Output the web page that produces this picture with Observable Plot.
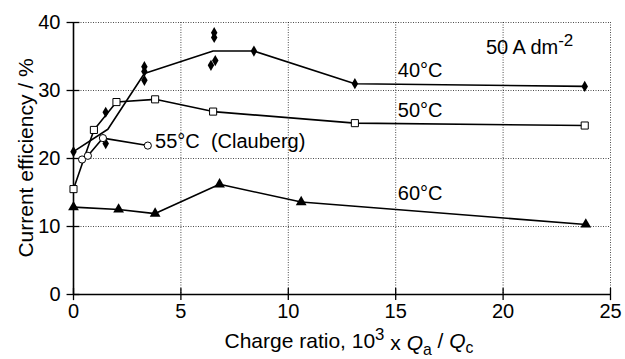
<!DOCTYPE html>
<html><head><meta charset="utf-8">
<script src="https://cdn.jsdelivr.net/npm/d3@7"></script>
<script src="https://cdn.jsdelivr.net/npm/@observablehq/plot@0.6"></script>
<style>
body{margin:0;background:#fff}
svg{font-family:"Liberation Sans",Arial,sans-serif}
</style>
</head><body><div id="chart"></div>
<script>
const xTicks=[0,5,10,15,20,25];
const yTicks=[0,10,20,30,40];
// 40 °C
const line40X=[0,1.6,3.3,6.5,8.4,13.1,23.8];
const line40Y=[21.0,24.3,32.5,35.8,35.8,31.0,30.6];
const mark40X=[0,8.4,13.1,23.8];
const mark40Y=[21.0,35.8,31.0,30.6];
const scatter40X=[1.5,1.5,3.3,3.3,3.3,6.55,6.55,6.6,6.4];
const scatter40Y=[26.8,22.2,33.5,32.8,31.5,38.5,37.8,34.4,33.7];
// 50 °C
const line50X=[0,0.95,2.0,3.8,6.5,13.1,23.8];
const line50Y=[15.5,24.2,28.3,28.7,26.9,25.2,24.85];
// 55 °C (Clauberg)
const line55X=[0.4,0.67,1.37,3.46];
const line55Y=[19.85,20.4,23.0,21.9];
// 60 °C
const line60X=[0,2.1,3.8,6.8,10.6,23.85];
const line60Y=[12.85,12.5,11.9,16.2,13.6,10.3];
// annotations
const labelText=["40°C","50°C","55°C  (Clauberg)","60°C","50 A dm"];
const labelX=[15.1,15.1,3.8,15.1,19.2];
const labelY=[33.0,27.1,22.5,14.8,36.3];

const pts=(xs,ys)=>xs.map((x,i)=>({x,y:ys[i]}));
const d40=pts(line40X,line40Y), m40=pts(mark40X,mark40Y), s40=pts(scatter40X,scatter40Y);
const d50=pts(line50X,line50Y), d55=pts(line55X,line55Y), d60=pts(line60X,line60Y);
const labels=labelText.map((t,i)=>({t,x:labelX[i],y:labelY[i]}));

const FS=20, TS=21;
const chart=Plot.plot({
  width:625,height:359,
  marginLeft:73,marginRight:15,marginTop:22,marginBottom:65,
  style:{fontFamily:"Liberation Sans, Arial, sans-serif",fontSize:FS+"px",color:"#000",background:"#fff"},
  x:{domain:[0,25]},
  y:{domain:[0,40]},
  marks:[
    Plot.gridX(xTicks.slice(1),{stroke:"#000",strokeOpacity:0.7,strokeWidth:1,strokeDasharray:"1,1.5"}),
    Plot.gridY(yTicks.slice(1),{stroke:"#000",strokeOpacity:0.7,strokeWidth:1,strokeDasharray:"1,1.5"}),
    Plot.axisX({ticks:xTicks,tickSize:0,tickPadding:9,fontSize:FS,label:null}),
    Plot.axisY({ticks:yTicks,tickSize:0,tickPadding:13,fontSize:FS,label:null}),
    Plot.ruleX([0],{stroke:"#000",strokeWidth:1.6}),
    Plot.ruleY([0],{stroke:"#000",strokeWidth:1.6}),
    Plot.ruleX(xTicks,{y1:-0.9,y2:0.9,stroke:"#000",strokeWidth:1.3}),
    Plot.ruleY(yTicks,{x1:-0.3,x2:0.3,stroke:"#000",strokeWidth:1.3}),
    Plot.line(d40,{x:"x",y:"y",stroke:"#000",strokeWidth:1.6}),
    Plot.line(d50,{x:"x",y:"y",stroke:"#000",strokeWidth:1.6}),
    Plot.line(d55,{x:"x",y:"y",stroke:"#000",strokeWidth:1.6}),
    Plot.line(d60,{x:"x",y:"y",stroke:"#000",strokeWidth:1.6}),
    Plot.dot(m40,{x:"x",y:"y",symbol:"diamond",fill:"#000",r:3.4}),
    Plot.dot(s40,{x:"x",y:"y",symbol:"diamond",fill:"#000",r:3.4}),
    Plot.dot(d50,{x:"x",y:"y",symbol:"square",fill:"#fff",stroke:"#000",strokeWidth:1,r:4}),
    Plot.dot(d55,{x:"x",y:"y",symbol:"circle",fill:"#fff",stroke:"#000",strokeWidth:1,r:3.6}),
    Plot.dot(d60,{x:"x",y:"y",symbol:"triangle",fill:"#000",r:4}),
    Plot.text(labels,{x:"x",y:"y",text:"t",textAnchor:"start",fontSize:FS,fill:"#000"})
  ]
});
document.getElementById("chart").appendChild(chart);
const svg=d3.select(chart);
svg.selectAll("text").filter(function(){return this.textContent==="50 A dm";})
  .append("tspan").attr("dy","-0.45em").attr("font-size","0.85em").text("-2");
// x-axis title
const xt=svg.append("text").attr("x",349).attr("y",348).attr("text-anchor","middle")
  .attr("font-size",TS).attr("fill","#000");
xt.append("tspan").text("Charge ratio, 10");
xt.append("tspan").attr("dy","-0.45em").attr("font-size","0.8em").text("3");
xt.append("tspan").attr("dy","0.45em").text(" x ");
xt.append("tspan").attr("font-style","italic").text("Q");
xt.append("tspan").attr("dy","0.3em").attr("font-size","0.75em").text("a");
xt.append("tspan").attr("dy","-0.3em").text(" / ");
xt.append("tspan").attr("font-style","italic").text("Q");
xt.append("tspan").attr("dy","0.3em").attr("font-size","0.75em").text("c");
// y-axis title
svg.append("text").attr("transform","translate(33,158) rotate(-90)").attr("text-anchor","middle")
  .attr("font-size",TS).attr("fill","#000").text("Current efficiency / %");
</script></body></html>
